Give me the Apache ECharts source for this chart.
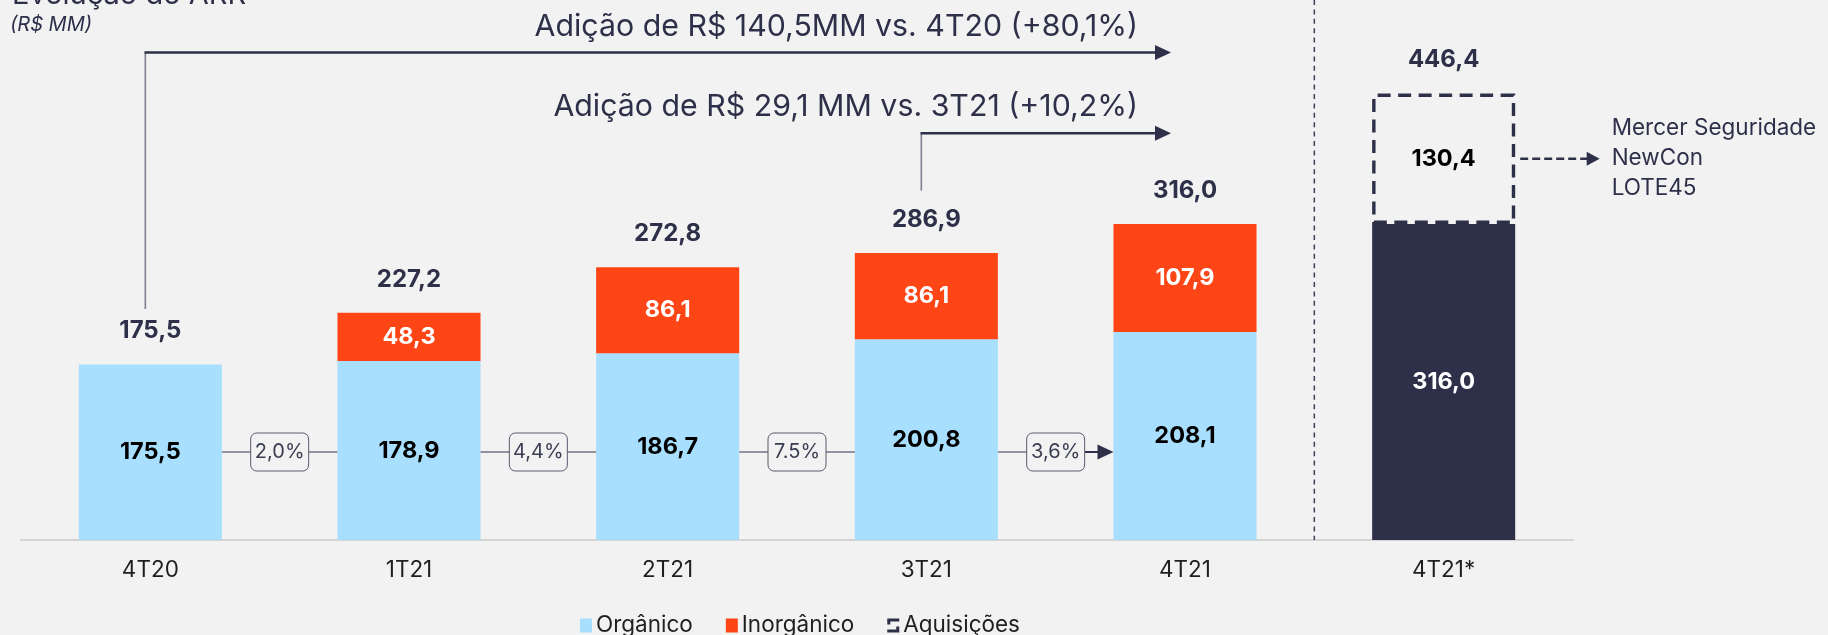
<!DOCTYPE html>
<html>
<head>
<meta charset="utf-8">
<script src="https://cdn.jsdelivr.net/npm/echarts@6/dist/echarts.min.js"></script>
<style>
html,body{margin:0;padding:0;background:#F2F2F2;}
#c{width:1828px;height:635px;}
</style>
</head>
<body>
<div id="c"></div>
<script>
// ---- data ----
const categories = ['4T20', '1T21', '2T21', '3T21', '4T21', '4T21*'];
const organic = [175.5, 178.9, 186.7, 200.8, 208.1, '-'];
const inorganic = ['-', 48.3, 86.1, 86.1, 107.9, '-'];
const base4T21 = ['-', '-', '-', '-', '-', 316.0];
const acquisitions = ['-', '-', '-', '-', '-', 130.4];
const totals = [175.5, 227.2, 272.8, 286.9, 316.0, 446.4];
const growthLabels = ['2,0%', '4,4%', '7.5%', '3,6%'];
const additionTexts = ['Adição de R$ 140,5MM vs. 4T20 (+80,1%)', 'Adição de R$ 29,1 MM vs. 3T21 (+10,2%)'];
const additionFrom = [0, 3];
const additionTo = [4, 4];
const acquiredCompanies = ['Mercer Seguridade', 'NewCon', 'LOTE45'];

// ---- layout constants (value space / pixels) ----
const BAR_RATIO = 0.553;
const GROWTH_Y = 88;
const ADD_START = [231, 349.3];
const ADD_LEVEL = [487.5, 406.7];
const DARK = '#2E3049';
const FONT = 'Inter';

const fmt = v => Number(v).toFixed(1).replace('.', ',');

const chart = echarts.init(document.getElementById('c'), null, {renderer: 'canvas'});

const barLabel = (color) => ({
  show: true, position: 'inside', color: color, fontFamily: FONT,
  fontWeight: 'bold', fontSize: 23.5,
  formatter: p => fmt(p.value)
});

function arrowHead(xTip, y, len, half, color) {
  return {
    type: 'polygon',
    shape: {points: [[xTip, y], [xTip - len, y - half], [xTip - len, y + half]]},
    style: {fill: color}
  };
}

const option = {
  backgroundColor: '#F2F2F2',
  animation: false,
  graphic: [
    {type: 'text', left: 12, top: -19, style: {text: 'Evolução do ARR', font: '29px Inter', fill: DARK}},
    {type: 'text', left: 10, top: 15, style: {text: '(R$ MM)', font: 'italic 20px Inter', fill: DARK}}
  ],
  grid: {left: 21, right: 255, top: 0, bottom: 95, containLabel: false},
  legend: {
    left: 575, top: 609,
    itemWidth: 12, itemHeight: 14, itemGap: 33,
    textStyle: {fontFamily: FONT, fontSize: 22.5, color: '#1f1f1f', padding: [0, 0, 0, -1]},
    data: [
      {name: 'Orgânico', icon: 'rect'},
      {name: 'Inorgânico', icon: 'rect'},
      {name: 'Aquisições', icon: 'path://M0 0H12V3H3V6H0Z M12 14H0V11H9V8H12Z', itemStyle: {color: DARK, borderWidth: 0}}
    ]
  },
  xAxis: {
    type: 'category', data: categories,
    axisTick: {show: false},
    axisLine: {lineStyle: {color: '#d4d4d4', width: 2}},
    axisLabel: {fontFamily: FONT, fontSize: 22.5, color: '#1f1f1f', margin: 19}
  },
  yAxis: {type: 'value', min: 0, max: 540, show: false, splitLine: {show: false}},
  series: [
    {
      name: 'Orgânico', type: 'bar', stack: 'arr', barWidth: (BAR_RATIO * 100) + '%',
      data: organic, itemStyle: {color: '#A8DFFE'}, label: barLabel('#000000')
    },
    {
      name: 'Inorgânico', type: 'bar', stack: 'arr',
      data: inorganic, itemStyle: {color: '#FE4516'}, label: barLabel('#ffffff')
    },
    {
      name: 'Base 4T21*', type: 'bar', stack: 'arr',
      data: base4T21, itemStyle: {color: DARK}, label: barLabel('#ffffff')
    },
    {
      name: 'Aquisições', type: 'bar', stack: 'arr',
      data: acquisitions,
      itemStyle: {color: 'rgba(0,0,0,0)', borderColor: DARK, borderWidth: 3.4, borderType: [13, 7.5]},
      label: barLabel('#000000')
    },
    {
      name: 'Total', type: 'scatter', data: totals, symbolSize: 1,
      itemStyle: {color: 'rgba(0,0,0,0)', opacity: 1},
      label: {
        show: true, position: 'top', distance: 21, color: DARK, fontFamily: FONT,
        fontWeight: 'bold', fontSize: 24, formatter: p => fmt(p.value)
      },
      z: 5
    },
    {
      name: 'Crescimento', type: 'custom',
      data: growthLabels.map((g, i) => [i, GROWTH_Y]),
      z: 6,
      renderItem: (params, api) => {
        const i = api.value(0);
        const yv = api.value(1);
        const p0 = api.coord([i, yv]);
        const p1 = api.coord([i + 1, yv]);
        const half = api.size([1, 0])[0] * BAR_RATIO / 2;
        const xa = p0[0] + half, xb = p1[0] - half;
        const mid = (p0[0] + p1[0]) / 2, y = p0[1];
        const bw = 58, bh = 38;
        const last = params.dataIndex === growthLabels.length - 1;
        const lineStyle = {stroke: last ? DARK : '#707384', lineWidth: last ? 2 : 1.5};
        const children = [
          {type: 'line', shape: {x1: xa, y1: y, x2: mid - bw / 2, y2: y}, style: {stroke: '#707384', lineWidth: 1.5}},
          {type: 'line', shape: {x1: mid + bw / 2, y1: y, x2: last ? xb - 14 : xb, y2: y}, style: lineStyle},
          {type: 'rect', shape: {x: mid - bw / 2, y: y - bh / 2, width: bw, height: bh, r: 6},
            style: {fill: '#F2F2F2', stroke: '#585b6e', lineWidth: 1}},
          {type: 'text', style: {text: growthLabels[params.dataIndex], x: mid, y: y, align: 'center', verticalAlign: 'middle',
            font: '20px Inter', fill: '#3b3e52'}}
        ];
        if (last) children.push(arrowHead(xb, y, 16, 7.5, DARK));
        return {type: 'group', children: children};
      }
    },
    {
      name: 'Adição', type: 'custom',
      data: additionTexts.map((t, k) => [additionFrom[k], ADD_LEVEL[k]]),
      z: 6,
      renderItem: (params, api) => {
        const k = params.dataIndex;
        const from = api.coord([additionFrom[k], ADD_START[k]]);
        const lvl = api.coord([additionFrom[k], ADD_LEVEL[k]]);
        const to = api.coord([additionTo[k], ADD_LEVEL[k]]);
        const x0 = from[0] - 5;
        const xTip = to[0] - 14;
        const y = lvl[1];
        return {type: 'group', children: [
          {type: 'line', shape: {x1: x0, y1: from[1], x2: x0, y2: y}, style: {stroke: '#7d8092', lineWidth: 1.6}},
          {type: 'line', shape: {x1: x0 - 0.8, y1: y, x2: xTip - 14, y2: y}, style: {stroke: DARK, lineWidth: 2.6}},
          arrowHead(xTip, y, 16, 7.5, DARK),
          {type: 'text', style: {text: additionTexts[k], x: xTip - 33, y: y - 26, align: 'right', verticalAlign: 'middle',
            font: '30.3px Inter', fill: DARK}}
        ]};
      }
    },
    {
      name: 'Separador', type: 'custom',
      data: [[4, 0]],
      z: 1,
      renderItem: (params, api) => {
        const a = api.coord([4, 0]);
        const b = api.coord([5, 0]);
        const top = api.coord([4, 540]);
        const x = (a[0] + b[0]) / 2;
        return {type: 'line', shape: {x1: x, y1: top[1], x2: x, y2: a[1]},
          style: {stroke: '#3c3f56', lineWidth: 1.5, lineDash: [5, 4.4]}};
      }
    },
    {
      name: 'Empresas', type: 'custom',
      data: [[5, 316.0 + 130.4 / 2]],
      z: 6,
      renderItem: (params, api) => {
        const p = api.coord([api.value(0), api.value(1)]);
        const half = api.size([1, 0])[0] * BAR_RATIO / 2;
        const x0 = p[0] + half + 5;
        const xTip = p[0] + 156;
        const y = p[1];
        const children = [
          {type: 'line', shape: {x1: x0, y1: y, x2: xTip - 12, y2: y}, style: {stroke: DARK, lineWidth: 2.6, lineDash: [8, 4]}},
          arrowHead(xTip, y, 13, 7, DARK)
        ];
        acquiredCompanies.forEach((t, j) => {
          children.push({type: 'text', style: {text: t, x: xTip + 12, y: y - 31 + j * 30, align: 'left', verticalAlign: 'middle',
            font: '22.5px Inter', fill: DARK}});
        });
        return {type: 'group', children: children};
      }
    }
  ]
};
chart.setOption(option);
</script>
</body>
</html>
